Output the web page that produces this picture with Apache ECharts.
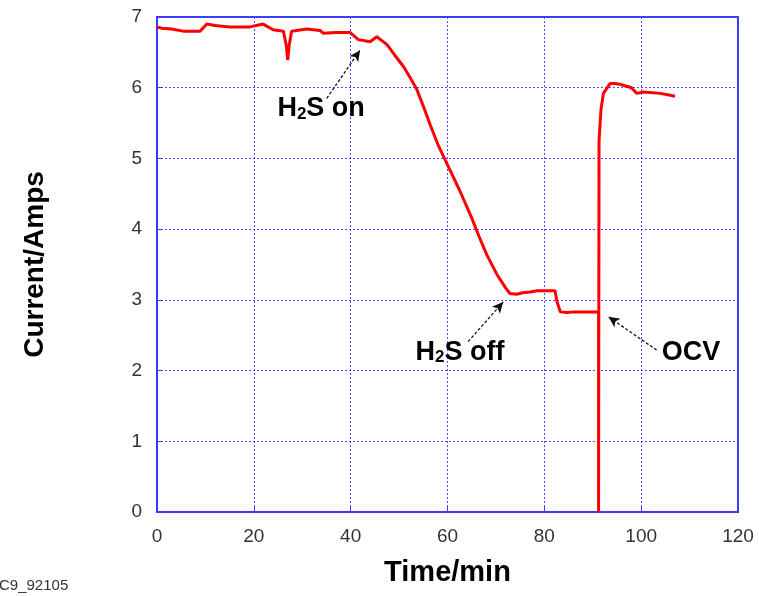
<!DOCTYPE html>
<html>
<head>
<meta charset="utf-8">
<script src="https://cdn.jsdelivr.net/npm/echarts@6/dist/echarts.min.js"></script>
<style>
html,body{margin:0;padding:0;background:#fff;}
#chart{width:759px;height:596px;}
</style>
</head>
<body>
<div id="chart"></div>
<script>
// Time (min) and current (A)
var timeMin = [0,1,3,5.4,8.9,10.3,12,15,19.2,21.9,24,26.1,26.7,27.0,27.3,27.8,30.9,33.7,34.3,37.1,39.9,41.6,44,45.4,47.5,49,50.9,52.3,53.7,55,56.4,58,60,62.5,65,66.5,68.1,70.2,72,72.9,74.3,75.5,77.1,78.5,80,82.2,82.6,83.3,84.7,86,88,91.2,91.2,91.3,91.3,91.7,92.2,93.6,94.6,95.5,97,98,99.1,100.5,103.9,105.5,107];
var currentA = [6.86,6.84,6.83,6.80,6.80,6.90,6.88,6.86,6.86,6.90,6.82,6.80,6.60,6.39,6.60,6.80,6.83,6.81,6.77,6.78,6.78,6.68,6.65,6.72,6.61,6.47,6.30,6.14,5.97,5.74,5.48,5.20,4.91,4.55,4.16,3.90,3.64,3.36,3.17,3.09,3.08,3.10,3.11,3.13,3.13,3.13,2.98,2.83,2.82,2.83,2.83,2.83,0,0,5.26,5.69,5.92,6.06,6.06,6.05,6.02,6.00,5.92,5.94,5.92,5.90,5.88];

var xTicks = [0,20,40,60,80,100,120];
var yTicks = [0,1,2,3,4,5,6,7];

// annotations: label, text anchor, arrow start, arrow end (data coords)
var annLabels = ['on','off','OCV'];
var annText = [[33.9,5.70],[62.6,2.26],[110.3,2.26]];
var annArrowFrom = [[35.06,5.85],[64.26,2.41],[103.2,2.29]];
var annArrowTo = [[41.94,6.53],[71.5,2.97],[93.25,2.76]];

var BLUE = '#3a3aff';
var chart = echarts.init(document.getElementById('chart'));
var lineData = timeMin.map(function(t,i){return [t,currentA[i]];});

var richStyle = {
  a:{fontFamily:'Liberation Sans, Arial, sans-serif',fontWeight:'bold',fontSize:27,color:'#000'},
  s:{fontFamily:'Liberation Sans, Arial, sans-serif',fontWeight:'bold',fontSize:17,color:'#000',verticalAlign:'bottom',padding:[8,0,0,0]}
};
function fmtAnn(k){
  if(k==='on') return '{a|H}{s|2}{a|S on}';
  if(k==='off') return '{a|H}{s|2}{a|S off}';
  return '{a|'+k+'}';
}
var textData = annText.map(function(p,i){return {value:p,name:annLabels[i]};});
var arrowData = annArrowFrom.map(function(p,i){return [{coord:p},{coord:annArrowTo[i]}];});

var tickFont = {fontFamily:'Liberation Sans, Arial, sans-serif',fontSize:19,color:'#333'};

chart.setOption({
  animation:false,
  backgroundColor:'#fff',
  grid:{left:157,right:21,top:17,bottom:84,show:true,borderColor:BLUE,borderWidth:2,backgroundColor:'transparent'},
  xAxis:{
    type:'value',min:0,max:120,interval:20,
    name:'Time/min',nameLocation:'middle',nameGap:46,
    nameTextStyle:{fontFamily:'Liberation Sans, Arial, sans-serif',fontWeight:'bold',fontSize:29,color:'#000'},
    axisLine:{show:true,lineStyle:{color:BLUE,width:2}},
    axisTick:{show:true,inside:true,length:5,lineStyle:{color:BLUE}},
    axisLabel:Object.assign({margin:15,formatter:function(v){return xTicks.indexOf(v)>=0?String(v):'';}},tickFont),
    splitLine:{show:true,lineStyle:{color:'#4a4aff',type:[2,2],width:1}}
  },
  yAxis:{
    type:'value',min:0,max:7,interval:1,
    name:'Current/Amps',nameLocation:'middle',nameGap:108,nameRotate:90,
    nameTextStyle:{fontFamily:'Liberation Sans, Arial, sans-serif',fontWeight:'bold',fontSize:28,color:'#000'},
    axisLine:{show:true,lineStyle:{color:BLUE,width:2}},
    axisTick:{show:true,inside:true,length:5,lineStyle:{color:BLUE}},
    axisLabel:Object.assign({margin:15,formatter:function(v){return yTicks.indexOf(v)>=0?String(v):'';}},tickFont),
    splitLine:{show:true,lineStyle:{color:'#4a4aff',type:[2,2],width:1}}
  },
  graphic:[{type:'text',left:-1,top:578,style:{text:'C9_92105',font:'15px Liberation Sans, Arial, sans-serif',fill:'#333'}}],
  series:[
    {type:'line',data:lineData,showSymbol:false,symbol:'none',lineStyle:{color:'#ff0000',width:3},z:3,
     markLine:{silent:true,symbol:['none','arrow'],symbolSize:[8,11],label:{show:false},
       lineStyle:{color:'#111',width:1.3,type:[3,2]},data:arrowData}},
    {type:'scatter',data:textData,symbolSize:0,z:5,itemStyle:{opacity:1,color:'#000'},
     label:{show:true,position:'inside',color:'#000',formatter:function(p){return fmtAnn(p.name);},rich:richStyle}}
  ]
});
</script>
</body>
</html>
